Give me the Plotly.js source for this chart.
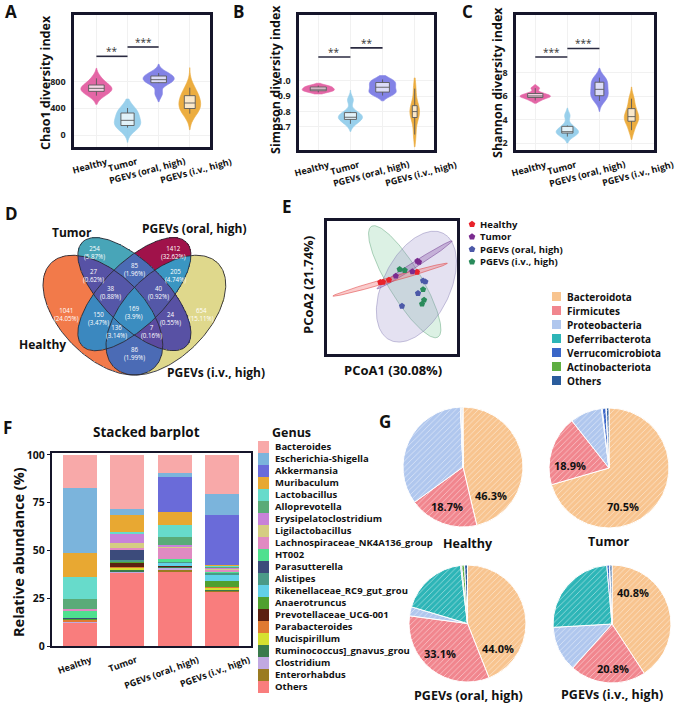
<!DOCTYPE html>
<html><head><meta charset="utf-8">
<script src="https://cdn.plot.ly/plotly-3.0.1.min.js"></script>
<style>html,body{margin:0;padding:0;background:#fff}#chart{width:685px;height:703px}</style>
</head><body><div id="chart"></div>
<script>
// ---------------- DATA ----------------
const groups = ['Healthy','Tumor','PGEVs (oral, high)','PGEVs (i.v., high)'];

// A: Chao1 per-sample values
const chao1Healthy = [590, 650, 670, 700, 720, 760, 850];
const chao1Tumor   = [110, 140, 150, 220, 300, 340, 405];
const chao1Oral    = [620, 780, 800, 830, 870, 890, 930];
const chao1IV      = [320, 390, 420, 480, 560, 600, 710];
const chao1SigY = [1180, 1320];
const chao1SigLabel = ['**', '***'];

// B: Simpson
const simpsonHealthy = [0.925, 0.935, 0.940, 0.946, 0.955, 0.962, 0.970];
const simpsonTumor   = [0.720, 0.745, 0.760, 0.763, 0.780, 0.798, 0.876];
const simpsonOral    = [0.905, 0.925, 0.935, 0.959, 0.975, 0.995, 1.010];
const simpsonIV      = [0.650, 0.755, 0.780, 0.800, 0.820, 0.845, 0.950];
const simpsonSigY = [1.157, 1.216];
const simpsonSigLabel = ['**', '**'];

// C: Shannon
const shannonHealthy = [5.65, 5.88, 5.96, 6.03, 6.12, 6.28, 6.70];
const shannonTumor   = [2.55, 2.82, 2.94, 2.97, 3.20, 3.50, 4.35];
const shannonOral    = [5.60, 6.00, 6.22, 6.60, 6.94, 7.30, 7.60];
const shannonIV      = [3.10, 3.82, 4.00, 4.26, 4.60, 5.06, 5.80];
const shannonSigY = [9.37, 10.1];
const shannonSigLabel = ['***', '***'];

// D: Venn (H=Healthy, T=Tumor, O=PGEVs oral, I=PGEVs i.v.)
const vennKeys     = ['H','T','O','I','HT','TO','OI','HO','TI','HI','HTO','TOI','HOI','HTI','HTOI'];
const vennCounts   = [1041, 254, 1412, 654, 27, 85, 205, 150, 24, 86, 38, 40, 136, 7, 169];
const vennPercents = ['24.05%','5.87%','32.62%','15.11%','0.62%','1.96%','4.74%','3.47%','0.55%','1.99%','0.88%','0.92%','3.14%','0.16%','3.9%'];

// E: PCoA scores
const pcoaHealthyX = [-0.081, -0.062, -0.021, 0.173];
const pcoaHealthyY = [0.036, 0.038, 0.052, 0.107];
const pcoaTumorX   = [0.176, 0.187, 0.026, 0.141];
const pcoaTumorY   = [0.183, 0.176, 0.080, 0.110];
const pcoaOralX    = [0.215, 0.231, 0.180, 0.069];
const pcoaOralY    = [0.047, 0.040, -0.040, -0.128];
const pcoaIVX      = [0.053, 0.088, 0.215, 0.222, 0.208];
const pcoaIVY      = [0.126, 0.119, -0.013, -0.086, -0.114];
const pcoaAxisX = 'PCoA1 (30.08%)';
const pcoaAxisY = 'PCoA2 (21.74%)';

// F: genus relative abundance (%), legend order
const genera = ['Bacteroides','Escherichia-Shigella','Akkermansia','Muribaculum','Lactobacillus','Alloprevotella',
  'Erysipelatoclostridium','Ligilactobacillus','Lachnospiraceae_NK4A136_group','HT002','Parasutterella','Alistipes',
  'Rikenellaceae_RC9_gut_grou','Anaerotruncus','Prevotellaceae_UCG-001','Parabacteroides','Mucispirillum',
  'Ruminococcus]_gnavus_grou','Clostridium','Enterorhabdus','Others'];
const genusHealthy = [17.5, 33.6, 0.1, 12.6, 11.7, 5.0, 0.1, 0.2, 0.8, 4.0, 0.1, 0.3, 0.1, 0.1, 0.1, 1.0, 0.1, 0.1, 0.2, 0.1, 12.2];
const genusTumor   = [28.2, 3.1, 0.2, 8.7, 1.0, 0.3, 4.7, 2.7, 0.6, 0.2, 5.4, 0.9, 0.3, 0.5, 1.8, 0.6, 1.0, 1.2, 0.3, 0.3, 38.0];
const genusOral    = [9.6, 2.1, 18.0, 6.9, 6.2, 4.3, 1.0, 0.8, 5.5, 1.4, 0.3, 0.5, 1.4, 0.2, 0.3, 0.2, 0.2, 0.3, 1.2, 0.7, 38.9];
const genusIV      = [20.6, 10.8, 26.0, 0.9, 0.6, 0.3, 0.5, 0.6, 0.8, 0.6, 0.3, 0.8, 3.2, 3.1, 0.2, 0.3, 1.0, 0.4, 0.3, 0.3, 28.4];

// G: phylum composition (%)
const phyla = ['Bacteroidota','Firmicutes','Proteobacteria','Deferribacterota','Verrucomicrobiota','Actinobacteriota','Others'];
const phylumHealthy = [46.3, 18.7, 34.3, 0.1, 0.3, 0.1, 0.2];
const phylumTumor   = [70.5, 18.9, 8.6, 0.2, 1.0, 0.1, 0.7];
const phylumOral    = [44.0, 33.1, 2.5, 18.5, 0.3, 0.8, 0.8];
const phylumIV      = [40.8, 20.8, 12.5, 24.5, 0.7, 0.1, 0.6];

// ---------------- HELPERS ----------------
const W = 685, H = 703;
const px = v => v / W, py = v => 1 - v / H;
const dX = (a, b) => [a / W, b / W];
const dY = (a, b) => [1 - b / H, 1 - a / H];
const FONT = 'Open Sans, sans-serif';
const INK = '#15152a';
function ellipsePts(cx, cy, a, b, ang, n) {
  n = n || 160; const t = ang * Math.PI / 180, xs = [], ys = [];
  for (let i = 0; i <= n; i++) {
    const s = 2 * Math.PI * i / n, u = a * Math.cos(s), v = b * Math.sin(s);
    xs.push(cx + u * Math.cos(t) - v * Math.sin(t)); ys.push(cy + u * Math.sin(t) + v * Math.cos(t));
  }
  return {x: xs, y: ys};
}
function inEll(e, x, y) {
  const t = e[4] * Math.PI / 180, dx = x - e[0], dy = y - e[1];
  const u = dx * Math.cos(t) + dy * Math.sin(t), v = -dx * Math.sin(t) + dy * Math.cos(t);
  return (u / e[2]) ** 2 + (v / e[3]) ** 2 <= 1;
}
const annotations = [];
function ann(text, x, y, o) {
  o = o || {};
  annotations.push(Object.assign({text: text, x: x, y: y, xref: 'paper', yref: 'paper', showarrow: false,
    xanchor: 'center', yanchor: 'middle', font: {family: FONT, size: o.size || 11, color: o.color || '#111', weight: o.weight || 'bold'}}, o.extra || {}));
}

const traces = [];
const layout = {
  width: W, height: H, margin: {l: 0, r: 0, t: 0, b: 0}, paper_bgcolor: '#fff', plot_bgcolor: 'rgba(0,0,0,0)',
  font: {family: FONT, color: '#111'}, showlegend: false, violinmode: 'overlay', violingap: 0, barmode: 'stack',
  annotations: annotations
};

// ---------------- A, B, C violins ----------------
const groupColors = ['#e2569d', '#8ecbea', '#7676e4', '#eba52c'];
const violinPanels = [
  {n: '', data: [chao1Healthy, chao1Tumor, chao1Oral, chao1IV], sigY: chao1SigY, sig: chao1SigLabel,
   xd: [74, 210], yd: [15, 147], xr: [-0.72, 3.65], yr: [-180, 1800], tv: [0, 400, 800], tt: ['0', '400', '800'],
   bw: [70, 90, 60, 110], span: [[460, 1000], [-110, 540], [500, 1060], [80, 1010]], wd: [1.0, 0.85, 1.0, 0.7],
   title: 'Chao1 diversity index', tx: 45, ty: 83, letter: 'A', lx: 11, ly: 11},
  {n: '2', data: [simpsonHealthy, simpsonTumor, simpsonOral, simpsonIV], sigY: simpsonSigY, sig: simpsonSigLabel,
   xd: [299, 434], yd: [15, 150], xr: [-0.6, 3.6], yr: [0.549, 1.431], tv: [0.7, 0.8, 0.9, 1.0], tt: ['0.7', '0.8', '0.9', '1.0'],
   bw: [0.01, 0.025, 0.02, 0.05], span: [[0.915, 0.985], [0.67, 0.94], [0.87, 1.035], [0.57, 1.02]], wd: [1.0, 0.75, 0.85, 0.3],
   title: 'Simpson diversity index', tx: 275, ty: 80, letter: 'B', lx: 238, ly: 11},
  {n: '3', data: [shannonHealthy, shannonTumor, shannonOral, shannonIV], sigY: shannonSigY, sig: shannonSigLabel,
   xd: [516, 654], yd: [15, 150], xr: [-0.6, 3.7], yr: [1.4, 12.97], tv: [2, 4, 6, 8], tt: ['2', '4', '6', '8'],
   bw: [0.15, 0.3, 0.4, 0.45], span: [[5.4, 7.0], [2.0, 5.0], [4.7, 8.4], [2.3, 6.8]], wd: [0.95, 0.7, 0.55, 0.45],
   title: 'Shannon diversity index', tx: 497, ty: 83, letter: 'C', lx: 467, ly: 11}
];
const tickShiftViolin = [-6, -5, -12, 6];
violinPanels.forEach(p => {
  const xa = 'x' + p.n, ya = 'y' + p.n;
  layout['xaxis' + p.n] = {domain: dX(p.xd[0], p.xd[1]), anchor: ya, type: 'category', categoryarray: groups, range: p.xr,
    showticklabels: false, ticks: '', showgrid: true, gridcolor: '#f1f1f1', zeroline: false,
    showline: true, mirror: true, linewidth: 2.6, linecolor: INK};
  layout['yaxis' + p.n] = {domain: dY(p.yd[0], p.yd[1]), anchor: xa, range: p.yr, tickmode: 'array', tickvals: p.tv, ticktext: p.tt,
    ticks: '', showticklabels: true, tickfont: {family: FONT, size: 9, weight: 'bold', color: '#222'}, ticklabelstandoff: 4,
    showgrid: true, gridcolor: '#f1f1f1', zeroline: false, showline: true, mirror: true, linewidth: 2.6, linecolor: INK};
  p.data.forEach((vals, i) => {
    traces.push({type: 'violin', xaxis: xa, yaxis: ya, x: vals.map(() => groups[i]), y: vals, name: groups[i],
      bandwidth: p.bw[i], spanmode: 'manual', span: p.span[i], width: p.wd[i], scalemode: 'width',
      fillcolor: groupColors[i], opacity: 0.9, line: {color: groupColors[i], width: 0.6}, points: false,
      box: {visible: true, width: 0.5, fillcolor: 'rgba(255,255,255,0.72)', line: {color: '#4a4a4a', width: 0.9}},
      meanline: {visible: false}, showlegend: false, hoverinfo: 'skip'});
  });
  p.sigY.forEach((h, k) => {
    traces.push({type: 'scatter', mode: 'lines', xaxis: xa, yaxis: ya, x: [groups[k], groups[k + 1]], y: [h, h],
      line: {color: '#2a2a40', width: 1.6}, hoverinfo: 'skip', showlegend: false});
    annotations.push({text: p.sig[k], x: k + 0.5, y: h, xref: xa, yref: ya, showarrow: false, yanchor: 'bottom',
      yshift: -4, font: {family: FONT, size: 10, color: '#333'}});
  });
  groups.forEach((g, i) => {
    annotations.push({text: g, x: i, y: py(p.yd[1] + 5), xref: xa, yref: 'paper', showarrow: false,
      xanchor: 'center', yanchor: 'top', textangle: -15, xshift: tickShiftViolin[i],
      font: {family: FONT, size: 9, weight: 'bold', color: '#111'}});
  });
  ann(p.title, px(p.tx), py(p.ty), {size: 12.5, extra: {textangle: -90}});
  ann(p.letter, px(p.lx), py(p.ly), {size: 17});
});

// ---------------- D: Venn ----------------
const vennEll = [[0.35, 0.47, 0.35, 0.20, 135], [0.50, 0.57, 0.35, 0.15, 135], [0.50, 0.57, 0.35, 0.15, 45], [0.65, 0.47, 0.35, 0.20, 45]];
const vennLetters = ['H', 'T', 'O', 'I'];
const countByKey = {}; vennKeys.forEach((k, i) => countByKey[k] = vennCounts[i]);
const vx = [], vy = [];
for (let x = 0.052; x <= 0.978; x += 0.003) vx.push(+x.toFixed(4));
for (let y = 0.154; y <= 0.897; y += 0.003) vy.push(+y.toFixed(4));
const vz = vy.map(y => vx.map(x => {
  let k = ''; vennEll.forEach((e, i) => { if (inEll(e, x, y)) k += vennLetters[i]; });
  return k ? countByKey[k] : null;
}));
const vennScale = [[0, '#5b4a9f'], [0.056, '#4b6bb5'], [0.1, '#3b87bf'], [0.141, '#3a96c2'], [0.176, '#48a5b8'],
  [0.3, '#9fcd9f'], [0.46, '#dfd88c'], [0.6, '#f2b56b'], [0.736, '#f27a4a'], [0.87, '#cc3b52'], [1, '#a0124a']];
traces.push({type: 'heatmap', xaxis: 'x4', yaxis: 'y4', x: vx, y: vy, z: vz, colorscale: vennScale, zmin: 7, zmax: 1412,
  showscale: false, hoverinfo: 'skip', zsmooth: false});
vennEll.forEach(e => {
  const p = ellipsePts(e[0], e[1], e[2], e[3], e[4], 240);
  traces.push({type: 'scatter', mode: 'lines', xaxis: 'x4', yaxis: 'y4', x: p.x, y: p.y,
    line: {color: '#2b2b35', width: 0.9}, hoverinfo: 'skip', showlegend: false});
});
layout.xaxis4 = {domain: dX(40, 235), anchor: 'y4', range: [0.0507, 0.979], visible: false};
layout.yaxis4 = {domain: dY(225, 382), anchor: 'x4', range: [0.152, 0.899], visible: false};
const vennLabelPos = {H: [0.179, 0.471], T: [0.312, 0.766], O: [0.688, 0.766], I: [0.821, 0.471],
  HT: [0.303, 0.661], TO: [0.5, 0.685], OI: [0.697, 0.661], HO: [0.327, 0.456], TI: [0.673, 0.456], HI: [0.5, 0.29],
  HTO: [0.384, 0.58], TOI: [0.616, 0.58], HOI: [0.417, 0.39], HTI: [0.583, 0.39], HTOI: [0.5, 0.485]};
vennKeys.forEach((k, i) => {
  annotations.push({text: vennCounts[i] + '<br>(' + vennPercents[i] + ')', x: vennLabelPos[k][0], y: vennLabelPos[k][1],
    xref: 'x4', yref: 'y4', showarrow: false, font: {family: FONT, size: 6.2, color: '#ffffff'}});
});
ann('Tumor', px(72), py(232), {size: 12});
ann('PGEVs (oral, high)', px(194), py(229), {size: 12});
ann('Healthy', px(42), py(344), {size: 12});
ann('PGEVs (i.v., high)', px(216), py(372), {size: 12});
ann('D', px(11), py(213), {size: 17});

// ---------------- E: PCoA ----------------
const pcoaColors = ['#e8232b', '#7a2b8f', '#4c59a8', '#2a8b5b'];
const pcoaEll = [ // ellipse per group: cx, cy, a, b, angle
  [-0.013, 0.054, 0.412, 0.017, 15.9], [0.156, 0.157, 0.308, 0.02, 32.4], [0.169, 0.006, 0.413, 0.231, 63.4], [0.088, 0.04, 0.447, 0.115, -59]];
const pcoaEllFill = ['rgba(240,110,110,0.35)', 'rgba(140,90,170,0.35)', 'rgba(150,140,200,0.26)', 'rgba(120,200,150,0.26)'];
const pcoaEllLine = ['rgba(225,70,70,0.8)', 'rgba(120,70,150,0.8)', 'rgba(120,110,170,0.6)', 'rgba(70,150,100,0.6)'];
[3, 2, 1, 0].forEach(i => {
  const e = pcoaEll[i], p = ellipsePts(e[0], e[1], e[2], e[3], e[4], 200);
  traces.push({type: 'scatter', mode: 'lines', xaxis: 'x5', yaxis: 'y5', x: p.x, y: p.y, fill: 'toself',
    fillcolor: pcoaEllFill[i], line: {color: pcoaEllLine[i], width: 0.7}, hoverinfo: 'skip', showlegend: false});
});
const pcoaX = [pcoaHealthyX, pcoaTumorX, pcoaOralX, pcoaIVX], pcoaY = [pcoaHealthyY, pcoaTumorY, pcoaOralY, pcoaIVY];
pcoaX.forEach((xs, i) => traces.push({type: 'scatter', mode: 'markers', xaxis: 'x5', yaxis: 'y5', x: xs, y: pcoaY[i],
  marker: {symbol: 'pentagon', size: 6.5, color: pcoaColors[i]}, hoverinfo: 'skip', showlegend: false}));
layout.xaxis5 = {domain: dX(327, 457), anchor: 'y5', range: [-0.45, 0.45], showticklabels: false, ticks: '', showgrid: false,
  zeroline: false, showline: true, mirror: true, linewidth: 2.6, linecolor: INK};
layout.yaxis5 = {domain: dY(221, 354), anchor: 'x5', range: [-0.46, 0.46], showticklabels: false, ticks: '', showgrid: false,
  zeroline: false, showline: true, mirror: true, linewidth: 2.6, linecolor: INK};
ann(pcoaAxisY, px(308), py(285), {size: 13, extra: {textangle: -90}});
ann(pcoaAxisX, px(393), py(370), {size: 13});
ann('E', px(287), py(207), {size: 17});
// E legend
traces.push({type: 'scatter', mode: 'markers', xaxis: 'x7', yaxis: 'y7', x: groups.map(() => 0), y: groups.map((g, i) => i),
  marker: {symbol: 'pentagon', size: 7, color: pcoaColors}, hoverinfo: 'skip', showlegend: false});
layout.xaxis7 = {domain: dX(468, 476), anchor: 'y7', range: [-0.5, 0.5], visible: false};
layout.yaxis7 = {domain: dY(218, 268), anchor: 'x7', range: [3.5, -0.5], side: 'right', tickvals: [0, 1, 2, 3], ticktext: groups,
  ticks: '', showgrid: false, zeroline: false, showline: false, ticklabelstandoff: 3,
  tickfont: {family: FONT, size: 9.5, weight: 'bold', color: '#111'}};

// ---------------- F: stacked bars ----------------
const genusColors = ['#f8a9a9', '#7bb4dc', '#6a6bd9', '#e8a832', '#67dbcb', '#5aab78', '#c882d9', '#d5cd82', '#e08ac2',
  '#4fe08f', '#3c4b7b', '#4a9a88', '#62d0e8', '#4fa02f', '#5b2011', '#e07a31', '#d6e030', '#3a7a4b', '#c1a9e1', '#9a7b21', '#f97d7d'];
const genusByGroup = [genusHealthy, genusTumor, genusOral, genusIV];
for (let g = genera.length - 1; g >= 0; g--) {
  traces.push({type: 'bar', xaxis: 'x6', yaxis: 'y6', x: groups, y: genusByGroup.map(a => a[g]), width: 0.72,
    marker: {color: genusColors[g], line: {width: 0}}, hoverinfo: 'skip', showlegend: false});
}
layout.xaxis6 = {domain: dX(52, 251), anchor: 'y6', type: 'category', categoryarray: groups, range: [-0.6, 3.62],
  showticklabels: false, ticks: '', showgrid: false, zeroline: false, showline: true, mirror: true, linewidth: 2.2, linecolor: INK};
layout.yaxis6 = {domain: dY(453, 646), anchor: 'x6', range: [0, 101], tickvals: [0, 25, 50, 75, 100], ticks: 'outside', ticklen: 3,
  tickcolor: INK, tickfont: {family: FONT, size: 10.5, weight: 'bold', color: '#111'}, showgrid: false, zeroline: false,
  showline: true, mirror: true, linewidth: 2.2, linecolor: INK};
const tickShiftBar = [-5, -4, -14, -7];
groups.forEach((g, i) => annotations.push({text: g, x: i, y: py(650), xref: 'x6', yref: 'paper', showarrow: false,
  xanchor: 'center', yanchor: 'top', textangle: -20, xshift: tickShiftBar[i], font: {family: FONT, size: 9, weight: 'bold', color: '#111'}}));
ann('Stacked barplot', px(146), py(432), {size: 13.5});
ann('Relative abundance (%)', px(18), py(552), {size: 14.5, extra: {textangle: -90}});
ann('F', px(8), py(427), {size: 17});
// Genus legend (swatch column + right-side labels)
traces.push({type: 'heatmap', xaxis: 'x9', yaxis: 'y9', x: [0], y: genera.map((g, i) => i), z: genera.map((g, i) => [i]),
  colorscale: genusColors.flatMap((c, i) => [[Math.max(0, (i - 0.5) / 20), c], [Math.min(1, (i + 0.5) / 20), c]]),
  zmin: 0, zmax: 20, showscale: false, hoverinfo: 'skip'});
layout.xaxis9 = {domain: dX(258, 269), anchor: 'y9', range: [-0.5, 0.5], visible: false};
layout.yaxis9 = {domain: dY(441, 693), anchor: 'x9', range: [20.5, -0.5], side: 'right', tickvals: genera.map((g, i) => i),
  ticktext: genera, ticks: '', showgrid: false, zeroline: false, showline: false, ticklabelstandoff: 5,
  tickfont: {family: FONT, size: 9.5, weight: 'bold', color: '#111'}};
ann('Genus', px(291), py(433), {size: 12.5});

// ---------------- G: pies ----------------
const phylumColors = ['#f8c48f', '#f1868e', '#b0c7ee', '#2db5b7', '#3a66c8', '#5eae42', '#2a5c9c'];
const pies = [
  {v: phylumHealthy, name: 'Healthy', xd: [403, 523], yd: [407, 527], nx: 468, ny: 543, lab: [[491, 495], [447, 506]]},
  {v: phylumTumor, name: 'Tumor', xd: [549, 669], yd: [408, 528], nx: 608, ny: 541, lab: [[623, 507], [570, 465]]},
  {v: phylumOral, name: 'PGEVs (oral, high)', xd: [409, 526], yd: [565, 682], nx: 468, ny: 695, lab: [[498, 648], [440, 653]]},
  {v: phylumIV, name: 'PGEVs (i.v., high)', xd: [553, 671], yd: [565, 683], nx: 612, ny: 694, lab: [[633, 592], [613, 668]]}
];
pies.forEach(p => {
  traces.push({type: 'pie', labels: phyla, values: p.v, sort: false, direction: 'clockwise', rotation: 0,
    domain: {x: dX(p.xd[0], p.xd[1]), y: dY(p.yd[0], p.yd[1])}, textinfo: 'none', hoverinfo: 'skip', showlegend: false,
    marker: {colors: phylumColors, line: {color: '#ffffff', width: 1},
      pattern: {shape: '/', fillmode: 'overlay', bgcolor: phylumColors, fgcolor: '#ffffff', fgopacity: 0.55, size: 4, solidity: 0.2}}});
  [0, 1].forEach(k => ann(p.v[k].toFixed(1) + '%', px(p.lab[k][0]), py(p.lab[k][1]), {size: 11}));
  ann(p.name, px(p.nx), py(p.ny), {size: 12.5});
});
ann('G', px(385), py(421), {size: 17});
// Phylum legend
traces.push({type: 'heatmap', xaxis: 'x8', yaxis: 'y8', x: [0], y: phyla.map((p, i) => i), z: phyla.map((p, i) => [i]), ygap: 5,
  colorscale: phylumColors.flatMap((c, i) => [[Math.max(0, (i - 0.5) / 6), c], [Math.min(1, (i + 0.5) / 6), c]]),
  zmin: 0, zmax: 6, showscale: false, hoverinfo: 'skip'});
layout.xaxis8 = {domain: dX(552, 561), anchor: 'y8', range: [-0.5, 0.5], visible: false};
layout.yaxis8 = {domain: dY(290, 388), anchor: 'x8', range: [6.5, -0.5], side: 'right', tickvals: phyla.map((p, i) => i),
  ticktext: phyla, ticks: '', showgrid: false, zeroline: false, showline: false, ticklabelstandoff: 5,
  tickfont: {family: FONT, size: 10, weight: 'bold', color: '#111'}};

Plotly.newPlot('chart', traces, layout, {staticPlot: true, displayModeBar: false});
</script></body></html>
